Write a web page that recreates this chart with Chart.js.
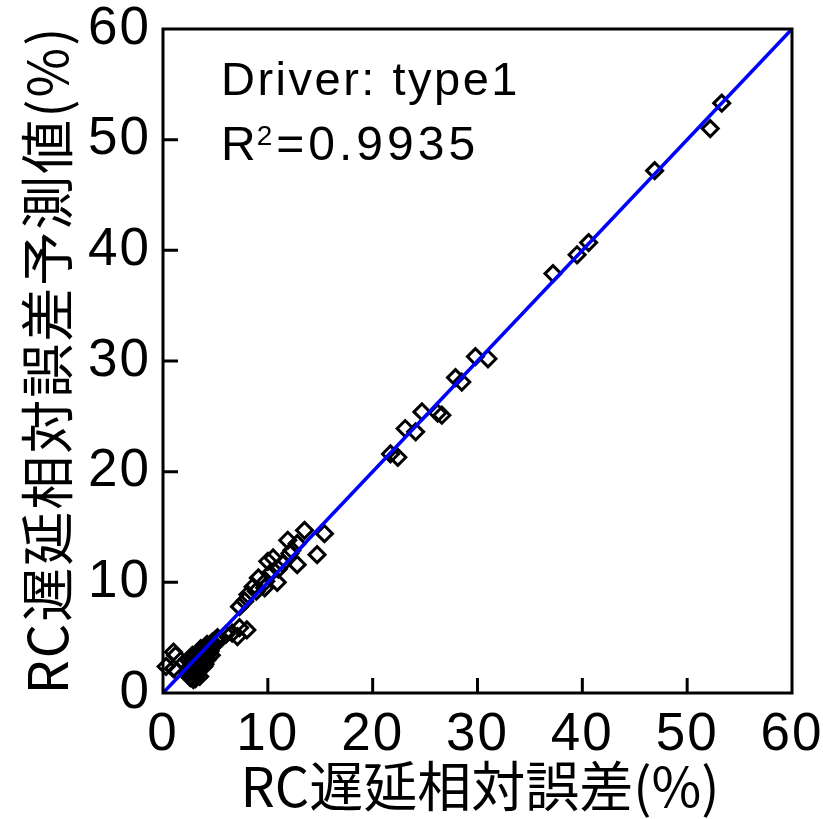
<!DOCTYPE html>
<html>
<head>
<meta charset="utf-8">
<script src="https://cdn.jsdelivr.net/npm/chart.js@4/dist/chart.umd.min.js"></script>
<style>
  html, body { margin: 0; padding: 0; background: #ffffff; }
  canvas { display: block; }
</style>
</head>
<body>
<canvas id="chart" width="823" height="819"></canvas>
<script>
// Measured relative error of RC delay (%) and the predicted value (%) for each sample
const actualErr = [
  53.3, 52.2, 46.9, 40.6, 39.5, 37.2, 31.0, 29.8, 28.5, 27.9, 26.6, 26.2, 24.7, 24.1, 23.1, 22.4, 21.7,
  15.4, 13.5, 14.7, 12.8, 11.9, 12.8, 12.3, 12.1, 11.4, 11.0, 10.5, 10.0, 10.2, 10.9, 9.1, 9.8, 9.7, 8.6, 8.9, 8.1, 7.8, 7.3,
  8.0, 7.3, 7.1, 6.6, 6.0, 5.4, 5.2, 5.0, 4.7, 4.5, 4.2, 4.3, 4.4, 4.1, 4.0, 3.9, 3.8, 3.7, 3.6, 3.6,
  3.5, 3.5, 3.4, 3.3, 3.3, 3.2, 3.1, 3.1, 3.0, 3.0, 2.9, 2.8, 2.8, 2.7, 2.6, 2.5, 2.4, 4.6, 4.0,
  2.6, 2.9, 3.2, 3.4, 3.6, 3.8, 4.0, 4.2, 4.5, 4.8, 3.0, 2.7, 3.3, 3.7, 4.1, 2.5, 3.9, 3.1,
  1.3, 1.0, 0.3, 1.2, 1.0
];
const predictedErr = [
  53.3, 51.0, 47.2, 40.7, 39.6, 37.9, 30.2, 30.4, 28.1, 28.5, 25.1, 25.3, 25.4, 23.6, 23.9, 21.3, 21.6,
  14.4, 14.7, 12.5, 13.5, 13.8, 11.6, 12.9, 12.6, 11.7, 11.2, 12.2, 11.9, 10.8, 10.0, 10.4, 10.1, 9.5, 9.6, 9.2, 8.9, 8.3, 7.8,
  5.7, 5.9, 5.1, 5.4, 5.3, 4.8, 5.0, 4.8, 4.6, 4.2, 4.4, 3.9, 3.6, 3.5, 4.1, 3.0, 3.8, 2.7, 3.3, 4.0,
  2.3, 1.5, 2.9, 1.9, 3.6, 2.6, 2.2, 1.3, 1.8, 3.2, 2.8, 1.6, 3.4, 2.4, 2.0, 2.9, 1.8, 3.4, 2.6,
  1.4, 1.2, 1.6, 2.1, 2.5, 2.9, 3.2, 3.0, 3.8, 4.3, 2.5, 2.9, 3.1, 3.5, 3.9, 2.3, 2.4, 2.8,
  2.0, 2.2, 2.4, 3.4, 3.7
];
const axisTicks = [0, 10, 20, 30, 40, 50, 60];
const fitEnds = [0, 60];            // y = x reference line
const driverText = 'Driver: type1';
const r2Text = '0.9935';
const xTitle = 'RC遅延相対誤差(%)';
const yTitle = 'RC遅延相対誤差予測値(%)';

const LATIN = "'Liberation Sans', Arial, sans-serif";
const CJK = "'Noto Sans CJK JP', 'Liberation Sans', sans-serif";

// Frame, inward tick marks, annotation and axis titles
const decorations = {
  id: 'decorations',
  beforeDraw(chart) {
    chart.ctx.letterSpacing = '2px';
  },
  afterDraw(chart) {
    const ctx = chart.ctx;
    const { left, right, top, bottom } = chart.chartArea;
    const xs = chart.scales.x, ys = chart.scales.y;
    ctx.save();
    ctx.strokeStyle = '#000';
    ctx.lineWidth = 3;
    ctx.strokeRect(left, top, right - left, bottom - top);
    ctx.beginPath();
    axisTicks.forEach(v => {
      if (v === axisTicks[0] || v === axisTicks[axisTicks.length - 1]) return;
      const px = xs.getPixelForValue(v);
      ctx.moveTo(px, bottom);
      ctx.lineTo(px, bottom - 15);
      const py = ys.getPixelForValue(v);
      ctx.moveTo(left, py);
      ctx.lineTo(left + 15, py);
    });
    ctx.stroke();

    // annotation
    ctx.fillStyle = '#000';
    ctx.letterSpacing = '2.5px';
    ctx.textAlign = 'left';
    ctx.textBaseline = 'alphabetic';
    ctx.font = `47px ${LATIN}`;
    ctx.fillText(driverText, 221, 95);
    ctx.letterSpacing = '4px';
    ctx.font = `48px ${LATIN}`;
    let x = 221;
    ctx.fillText('R', x, 160);
    x += ctx.measureText('R').width;
    ctx.font = `28px ${LATIN}`;
    ctx.fillText('2', x - 3, 145);
    x += ctx.measureText('2').width - 3;
    ctx.font = `48px ${LATIN}`;
    ctx.fillText('=' + r2Text, x, 160);

    // axis titles
    ctx.font = `54px ${CJK}`;
    ctx.textAlign = 'center';
    ctx.textBaseline = 'middle';
    ctx.letterSpacing = '0px';
    ctx.fillText(xTitle, 480, 786);
    ctx.translate(47, 361);
    ctx.rotate(-Math.PI / 2);
    ctx.letterSpacing = '2px';
    ctx.fillText(yTitle, 1, 0);
    ctx.restore();
    ctx.letterSpacing = '0px';
  }
};

const tickFont = { family: LATIN, size: 53, lineHeight: 1 };
const noEdgePadding = s => { s.paddingLeft = 0; s.paddingRight = 0; s.paddingTop = 0; s.paddingBottom = 0; };

new Chart(document.getElementById('chart'), {
  type: 'scatter',
  data: {
    datasets: [
      {
        type: 'line',
        data: fitEnds.map(v => ({ x: v, y: v })),
        borderColor: '#0000ff',
        borderWidth: 3.5,
        pointRadius: 0,
        fill: false,
        clip: false
      },
      {
        data: actualErr.map((v, i) => ({ x: v, y: predictedErr[i] })),
        pointStyle: 'rectRot',
        pointRadius: 8,
        pointBorderWidth: 3,
        borderColor: '#000000',
        backgroundColor: 'rgba(0,0,0,0)',
        clip: false
      }
    ]
  },
  options: {
    responsive: false,
    animation: false,
    devicePixelRatio: 1,
    layout: { padding: { top: 29, right: 31, left: 0, bottom: 0 } },
    plugins: { legend: { display: false }, tooltip: { enabled: false } },
    scales: {
      x: {
        type: 'linear',
        min: 0, max: 60,
        grid: { display: false },
        border: { display: false },
        ticks: { font: tickFont, color: '#000', padding: 8, maxRotation: 0 },
        afterBuildTicks: s => { s.ticks = axisTicks.map(v => ({ value: v })); },
        afterFit: s => { s.height = 126; noEdgePadding(s); }
      },
      y: {
        type: 'linear',
        min: 0, max: 60,
        grid: { display: false },
        border: { display: false },
        ticks: { font: tickFont, color: '#000', padding: 4 },
        afterBuildTicks: s => { s.ticks = axisTicks.map(v => ({ value: v })); },
        afterFit: s => { s.width = 163; noEdgePadding(s); }
      }
    }
  },
  plugins: [decorations]
});
</script>
</body>
</html>
